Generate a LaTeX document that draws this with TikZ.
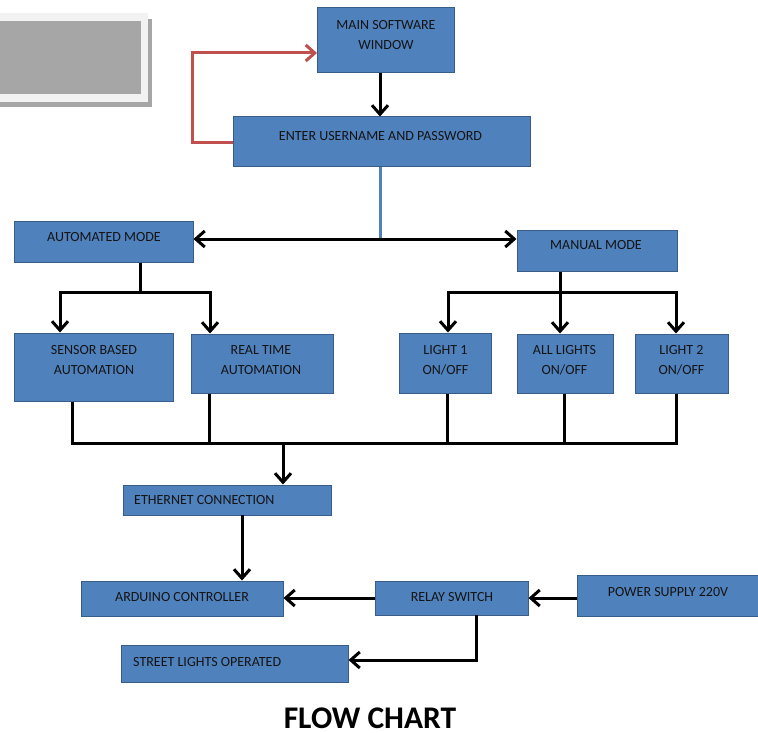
\documentclass[tikz,border=0pt]{standalone}
\usepackage{fontspec}
\setmainfont{Carlito}
\usetikzlibrary{arrows.meta}

\definecolor{boxblue}{HTML}{4F81BD}
\definecolor{boxedge}{HTML}{385D8A}
\definecolor{loopred}{HTML}{C0504D}
\definecolor{panelgray}{HTML}{A6A6A6}
\definecolor{panelframe}{HTML}{F2F2F2}
\definecolor{inkdark}{HTML}{141414}

\tikzset{
  box/.style={draw=boxedge, line width=1pt, fill=boxblue, inner sep=0pt},
  lbl/.style={text=inkdark, font=\fontsize{14}{20}\selectfont, align=center, inner sep=0pt},
  wire/.style={draw=black, line width=3pt},
  arr/.style={wire, -{Straight Barb[length=9pt,width=16pt]}},
  dblarr/.style={wire, {Straight Barb[length=9pt,width=16pt]}-{Straight Barb[length=9pt,width=16pt]}},
  loopline/.style={draw=loopred, line width=3pt, -{Straight Barb[length=9pt,width=16pt]}},
  feedline/.style={draw=boxblue, line width=3pt},
}

\begin{document}
\begin{tikzpicture}[x=1pt,y=-1pt]
\useasboundingbox (0,0) rectangle (758,733);
\clip (0,0) rectangle (758,733);

% grey panel in the upper left corner
\fill[panelgray] (-5,19) rectangle (152,107);
\fill[panelframe] (-5,13) rectangle (148,102);
\fill[panelgray] (-5,21) rectangle (141,94);

% boxes
\node[box, minimum width=137, minimum height=65] (main) at (385.5,40.5) {};
\node[box, minimum width=297, minimum height=50] (enter) at (381.5,142) {};
\node[box, minimum width=179, minimum height=41] (auto) at (103.5,241.5) {};
\node[box, minimum width=160, minimum height=41] (manual) at (597,250.5) {};
\node[box, minimum width=159, minimum height=68] (sensor) at (93.5,367) {};
\node[box, minimum width=142, minimum height=59] (real) at (262,363.5) {};
\node[box, minimum width=92, minimum height=60] (light1) at (445,363) {};
\node[box, minimum width=96, minimum height=59] (all) at (565,363.5) {};
\node[box, minimum width=93, minimum height=59] (light2) at (681.5,363.5) {};
\node[box, minimum width=208, minimum height=30] (eth) at (227,500) {};
\node[box, minimum width=202, minimum height=35] (arduino) at (182,598.5) {};
\node[box, minimum width=153, minimum height=34] (relay) at (451.5,598) {};
\node[box, minimum width=190, minimum height=41] (power) at (672,595.5) {};
\node[box, minimum width=227, minimum height=37] (street) at (234.5,663.5) {};

% box texts
\node[lbl] (mainT) at (386,35.5) {MAIN SOFTWARE\\WINDOW};
\node[lbl] (enterT) at (380.5,136) {ENTER USERNAME AND PASSWORD};
\node[lbl] (autoT) at (104,237) {AUTOMATED MODE};
\node[lbl] (manualT) at (596,245) {MANUAL MODE};
\node[lbl] (sensorT) at (94,360) {SENSOR BASED\\AUTOMATION};
\node[lbl] (realT) at (261,360) {REAL TIME\\AUTOMATION};
\node[lbl] (light1T) at (445.5,360) {LIGHT 1\\ON/OFF};
\node[lbl] (allT) at (564.5,360) {ALL LIGHTS\\ON/OFF};
\node[lbl] (light2T) at (681.5,360) {LIGHT 2\\ON/OFF};
\node[lbl, anchor=west] (ethT) at (134,500) {ETHERNET CONNECTION};
\node[lbl] (arduinoT) at (182,597) {ARDUINO CONTROLLER};
\node[lbl] (relayT) at (452,597) {RELAY SWITCH};
\node[lbl] (powerT) at (668,592) {POWER SUPPLY 220V};
\node[lbl, anchor=west] (streetT) at (133,662) {STREET LIGHTS OPERATED};

% title
\node[text=black, font=\bfseries\fontsize{31.5}{36}\selectfont, inner sep=0pt] (title) at (370,718) {FLOW CHART};

% junction points
\coordinate (redturn) at (192,53);
\coordinate (redin) at (317,53);
\coordinate (hub) at (380,239);
\coordinate (aj) at (140,292);
\coordinate (aL) at (60,292);
\coordinate (aR) at (210,292);
\coordinate (mj) at (560,292);
\coordinate (mL) at (448,292);
\coordinate (mR) at (676,292);
\coordinate (b1) at (72,443);
\coordinate (b2) at (209,443);
\coordinate (b3) at (447,443);
\coordinate (b4) at (564,443);
\coordinate (b5) at (676,443);
\coordinate (bus) at (283,443);
\coordinate (ea) at (242,515);
\coordinate (rs) at (476,615);

% login loop
\draw[arr] (main.south -| hub) -- (enter.north -| hub);
\draw[loopline] (enter.west |- 0,143) -| (redturn) -- (redin);

% mode selection
\draw[feedline] (enter.south -| hub) -- (hub);
\draw[dblarr] (hub -| auto.east) -- (hub -| manual.west);

% automated branches
\draw[wire] (auto.south -| aj) -- (aj);
\draw[arr] (aj) -| (sensor.north -| aL);
\draw[arr] (aj) -| (real.north -| aR);

% manual branches
\draw[wire] (manual.south -| mj) -- (mj);
\draw[arr] (mj) -| (light1.north -| mL);
\draw[arr] (mj) -- (all.north -| mj);
\draw[arr] (mj) -| (light2.north -| mR);

% collecting bus
\draw[wire] (sensor.south -| b1) -- (b1);
\draw[wire] (real.south -| b2) -- (b2);
\draw[wire] (light1.south -| b3) -- (b3);
\draw[wire] (all.south -| b4) -- (b4);
\draw[wire] (light2.south -| b5) -- (b5);
\draw[wire, line cap=rect] (b1) -- (b5);
\draw[arr] (bus) -- (eth.north -| bus);

% hardware chain
\draw[arr] (ea) -- (arduino.north -| ea);
\draw[arr] (relay.west |- 0,598) -- (arduino.east |- 0,598);
\draw[arr] (power.west |- 0,598) -- (relay.east |- 0,598);
\draw[arr] (rs) |- (street.east |- 0,660);
\end{tikzpicture}
\end{document}
